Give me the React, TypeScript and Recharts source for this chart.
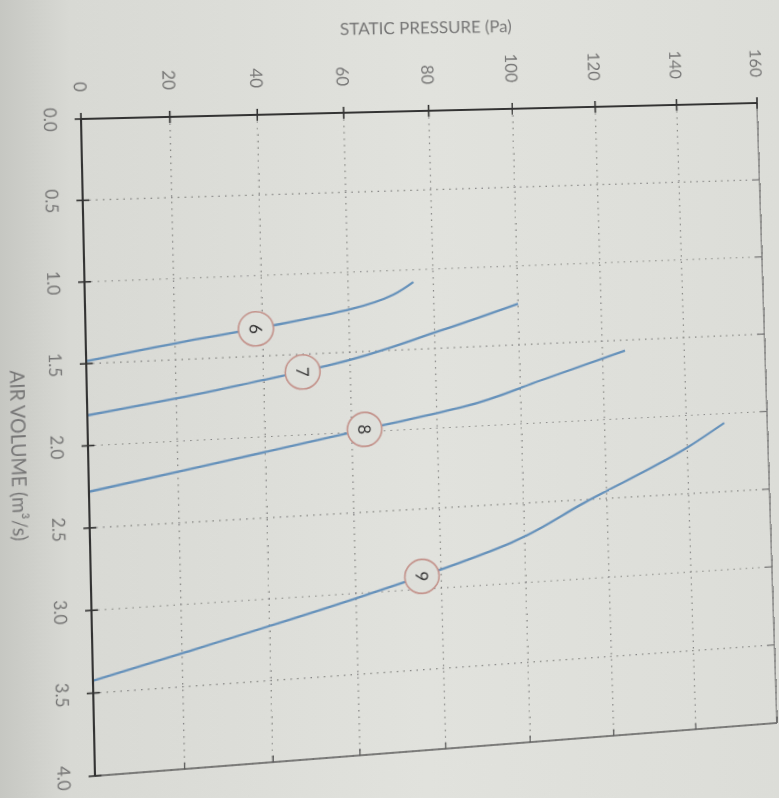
import React from 'react';
import { ComposedChart, Line, Scatter, XAxis, YAxis, CartesianGrid, Label, ReferenceLine } from 'recharts';

// Axis ticks
const volumeTicks = [0, 0.5, 1, 1.5, 2, 2.5, 3, 3.5, 4];
const pressureTicks = [0, 20, 40, 60, 80, 100, 120, 140, 160];

// Fan curves: air volume (m3/s) vs static pressure (Pa)
const fan6Volume = [1.077, 1.228, 1.308, 1.346, 1.372, 1.485];
const fan6Pressure = [75.3, 61.1, 43.8, 33.8, 26.7, 0];
const fan7Volume = [1.24, 1.39, 1.578, 1.621, 1.71, 1.815];
const fan7Pressure = [100, 81.3, 54.7, 45.8, 26.5, 0];
const fan8Volume = [1.567, 1.731, 1.874, 1.98, 2.16, 2.28];
const fan8Pressure = [125.5, 105, 86.5, 64, 26, 0];
const fan9Volume = [2.06, 2.205, 2.52, 2.744, 2.9, 3.03, 3.29, 3.425];
const fan9Pressure = [149.3, 140, 114.5, 96.8, 78, 60, 21, 0];

// Curve labels (circled numbers)
const labelNames = ['6', '7', '8', '9'];
const labelVolume = [1.33, 1.61, 1.985, 2.92];
const labelPressure = [38.5, 49, 63, 75.5];

const zip = (v: number[], p: number[]) => v.map((x, i) => ({ v: x, p: p[i] }));
const fan6 = zip(fan6Volume, fan6Pressure);
const fan7 = zip(fan7Volume, fan7Pressure);
const fan8 = zip(fan8Volume, fan8Pressure);
const fan9 = zip(fan9Volume, fan9Pressure);
const labels = labelNames.map((n, i) => ({ v: labelVolume[i], p: labelPressure[i], n }));

const BG = '#dedfdb';
const LINE = '#6591ba';
const TEXT = '#767676';
const FONT = 'Lato, "DejaVu Sans", sans-serif';

const Y_GAP = 27;
const X_GAP = 22;
const HALF = 6;

// Photo perspective: ideal plot rectangle corners -> photographed corners
const IDEAL = [[85, 115], [762, 115], [85, 758], [762, 758]];
const PHOTO = [[81, 119], [757, 103], [95, 776], [777, 723]];

function homographyCss(src: number[][], dst: number[][]) {
  const A: number[][] = [];
  const b: number[] = [];
  for (let i = 0; i < 4; i++) {
    const [x, y] = src[i];
    const [u, w] = dst[i];
    A.push([x, y, 1, 0, 0, 0, -u * x, -u * y]);
    b.push(u);
    A.push([0, 0, 0, x, y, 1, -w * x, -w * y]);
    b.push(w);
  }
  const n = 8;
  for (let c = 0; c < n; c++) {
    let piv = c;
    for (let r = c + 1; r < n; r++) if (Math.abs(A[r][c]) > Math.abs(A[piv][c])) piv = r;
    const tmp = A[c]; A[c] = A[piv]; A[piv] = tmp;
    const tb = b[c]; b[c] = b[piv]; b[piv] = tb;
    for (let r = 0; r < n; r++) {
      if (r === c) continue;
      const f = A[r][c] / A[c][c];
      for (let k = c; k < n; k++) A[r][k] -= f * A[c][k];
      b[r] -= f * b[c];
    }
  }
  const h = b.map((val, i) => val / A[i][i]);
  return `matrix3d(${h[0]},${h[3]},0,${h[6]},${h[1]},${h[4]},0,${h[7]},0,0,1,0,${h[2]},${h[5]},0,1)`;
}

function PressureTick(props: any) {
  const { x, y, payload } = props;
  const ax = x + Y_GAP;
  return (
    <g>
      <line x1={ax - HALF} x2={ax + HALF} y1={y} y2={y} stroke="#333" strokeWidth={1.6} />
      <text x={x} y={y} textAnchor="end" dominantBaseline="central" fill={TEXT} fontSize={17} fontFamily={FONT}>
        {payload.value}
      </text>
    </g>
  );
}

function VolumeTick(props: any) {
  const { x, y, payload } = props;
  const ay = y - X_GAP;
  return (
    <g>
      <line x1={x} x2={x} y1={ay - HALF} y2={ay + HALF} stroke="#333" strokeWidth={1.6} />
      <text x={x} y={y} textAnchor="middle" dominantBaseline="hanging" fill={TEXT} fontSize={17} fontFamily={FONT}>
        {Number(payload.value).toFixed(1)}
      </text>
    </g>
  );
}

function CircleLabel(props: any) {
  const { cx, cy, payload } = props;
  if (cx == null || cy == null) return null;
  return (
    <g>
      <circle cx={cx} cy={cy} r={17} fill={BG} stroke="#c3938b" strokeWidth={1.6} />
      <text x={cx} y={cy} textAnchor="middle" dominantBaseline="central" fill="#333" fontSize={17} fontFamily={FONT}>
        {payload.n}
      </text>
    </g>
  );
}

function PressureTitle(props: any) {
  const vb = props.viewBox || { x: 5, y: 17, width: 110, height: 677 };
  const x = vb.x + 25;
  const y = vb.y + vb.height / 2;
  return (
    <text x={x} y={y} transform={`rotate(-90, ${x}, ${y})`} textAnchor="middle" dominantBaseline="central"
      fill={TEXT} fontSize={17} fontFamily={FONT}>
      STATIC PRESSURE (Pa)
    </text>
  );
}

function VolumeTitle(props: any) {
  const vb = props.viewBox || { x: 115, y: 694, width: 643, height: 80 };
  const x = vb.x + vb.width / 2 + 6;
  const y = vb.y + 64;
  return (
    <text x={x} y={y} textAnchor="middle" dominantBaseline="central" fill={TEXT} fontSize={19} fontFamily={FONT}>
      AIR VOLUME (m³/s)
    </text>
  );
}

const persp = homographyCss(IDEAL, PHOTO);

export default function App() {
  return (
    <div style={{ position: 'fixed', left: 0, top: 0, width: 779, height: 798, overflow: 'hidden',
      background: 'linear-gradient(90deg, #c6c7c3 0%, #d8d8d4 9%, #e1e1dd 55%, #dcdcd8 100%)' }}>
      <div style={{ position: 'absolute', left: 0, top: 0, width: 779, height: 798,
        transformOrigin: '0 0', transform: persp }}>
        <div style={{ position: 'absolute', left: 0, top: 0, width: 798, height: 779,
          transformOrigin: '0 0', transform: 'translate(779px, 0px) rotate(90deg)' }}>
          <ComposedChart width={798} height={779} margin={{ top: 17, right: 40, bottom: 5, left: 5 }}>
            <CartesianGrid stroke="#858585" strokeDasharray="1.5 5" strokeWidth={1.2} />
            <ReferenceLine x={4} stroke="#5e5e5e" strokeWidth={1.5} />
            <ReferenceLine y={160} stroke="#7a7a7a" strokeWidth={1.3} />
            {pressureTicks.map((p) => (
              <ReferenceLine key={`rt${p}`} segment={[{ x: 4, y: p }, { x: 3.96, y: p }]} stroke="#5e5e5e" strokeWidth={1.3} />
            ))}
            {volumeTicks.map((v) => (
              <ReferenceLine key={`tt${v}`} segment={[{ x: v, y: 160 }, { x: v, y: 158.3 }]} stroke="#7a7a7a" strokeWidth={1.3} />
            ))}
            <XAxis dataKey="v" type="number" domain={[0, 4]} ticks={volumeTicks} interval={0}
              allowDataOverflow height={80} tickSize={0} tickMargin={X_GAP} tickLine={false}
              axisLine={{ stroke: '#333', strokeWidth: 2 }} tick={(p: any) => <VolumeTick {...p} />}>
              <Label content={(p: any) => <VolumeTitle {...p} />} />
            </XAxis>
            <YAxis type="number" domain={[0, 160]} ticks={pressureTicks} interval={0} allowDataOverflow
              width={110} tickSize={0} tickMargin={Y_GAP} tickLine={false}
              axisLine={{ stroke: '#333', strokeWidth: 2 }} tick={(p: any) => <PressureTick {...p} />}>
              <Label content={(p: any) => <PressureTitle {...p} />} />
            </YAxis>
            <Line data={fan6} dataKey="p" type="monotone" stroke={LINE} strokeWidth={2.3} dot={false} isAnimationActive={false} />
            <Line data={fan7} dataKey="p" type="monotone" stroke={LINE} strokeWidth={2.3} dot={false} isAnimationActive={false} />
            <Line data={fan8} dataKey="p" type="monotone" stroke={LINE} strokeWidth={2.3} dot={false} isAnimationActive={false} />
            <Line data={fan9} dataKey="p" type="monotone" stroke={LINE} strokeWidth={2.3} dot={false} isAnimationActive={false} />
            <Scatter data={labels} dataKey="p" shape={(p: any) => <CircleLabel {...p} />} isAnimationActive={false} />
          </ComposedChart>
        </div>
      </div>
    </div>
  );
}
